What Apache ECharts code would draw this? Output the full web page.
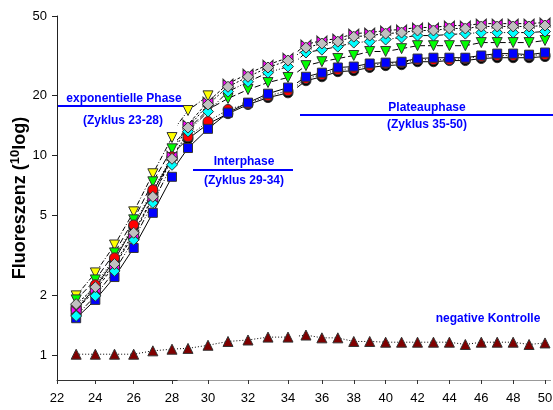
<!DOCTYPE html>
<html>
<head>
<meta charset="utf-8">
<script src="https://cdn.jsdelivr.net/npm/echarts@6/dist/echarts.min.js"></script>
<style>
html, body { margin: 0; padding: 0; background: #fff; }
#chart { width: 553px; height: 410px; }
</style>
</head>
<body>
<div id="chart"></div>
<script>
var chart = echarts.init(document.getElementById('chart'));

// Zyklus 23 .. 50
var cycles = [23, 24, 25, 26, 27, 28, 29, 30, 31, 32, 33, 34, 35, 36, 37, 38, 39, 40, 41, 42, 43, 44, 45, 46, 47, 48, 49, 50];

// yellow is hidden behind the other markers after cycle 30
var yellowVals  = [1.98, 2.58, 3.56, 5.22, 8.10, 12.3, 16.8, 19.9, null, null, null, null, null, null, null, null, null, null, null, null, null, null, null, null, null, null, null, null];
var greenVals   = [1.89, 2.38, 3.25, 4.76, 7.38, 10.8, 13.5, 17.0, 19.3, 21.4, 23.2, 24.6, 28.2, 29.5, 30.6, 31.7, 33.2, 33.2, 34.3, 35.5, 35.5, 35.5, 35.5, 36.8, 36.8, 36.8, 36.8, 37.7];
var blackVals   = [1.68, 2.19, 3.00, 4.39, 6.58, 9.74, 12.1, 14.4, 16.2, 18.0, 19.5, 20.6, 23.7, 24.8, 26.3, 26.6, 27.6, 28.2, 28.5, 29.5, 29.5, 29.9, 29.9, 30.6, 30.9, 30.9, 30.9, 31.3];
var redVals     = [1.72, 2.25, 3.07, 4.49, 6.73, 9.85, 12.4, 14.8, 17.0, 18.2, 19.9, 21.1, 24.3, 25.4, 26.9, 27.3, 28.2, 28.9, 29.2, 30.2, 30.2, 30.2, 30.6, 31.3, 31.7, 31.7, 31.7, 32.0];
var blueVals    = [1.53, 1.89, 2.46, 3.44, 5.16, 7.82, 10.9, 13.6, 16.4, 18.4, 20.4, 21.9, 24.8, 26.0, 27.6, 27.9, 28.9, 29.2, 29.5, 30.6, 30.9, 30.9, 30.9, 31.7, 32.4, 32.4, 32.0, 32.8];
var cyanVals    = [1.57, 1.98, 2.64, 3.78, 5.79, 8.98, 13.2, 16.6, 20.9, 23.4, 26.0, 27.9, 32.8, 33.9, 35.1, 36.8, 37.2, 38.1, 39.0, 39.9, 39.9, 40.4, 40.8, 41.3, 41.3, 41.3, 41.3, 41.8];
var magentaVals = [1.68, 2.12, 2.80, 4.00, 6.14, 9.97, 14.3, 18.6, 22.9, 25.7, 28.5, 30.9, 36.0, 37.7, 38.5, 40.8, 41.3, 42.3, 42.8, 43.8, 43.8, 44.8, 44.8, 45.8, 45.8, 45.8, 45.8, 46.4];
var greyVals    = [1.80, 2.19, 2.86, 4.10, 6.21, 9.63, 13.8, 18.0, 22.1, 24.8, 27.6, 29.9, 34.7, 36.4, 37.2, 39.4, 39.9, 40.8, 41.3, 42.3, 42.3, 43.3, 43.3, 44.3, 44.3, 44.3, 44.3, 44.8];
var negativeVals = [1.01, 1.01, 1.01, 1.01, 1.05, 1.07, 1.08, 1.12, 1.17, 1.19, 1.23, 1.23, 1.26, 1.22, 1.22, 1.17, 1.17, 1.16, 1.16, 1.16, 1.16, 1.16, 1.13, 1.16, 1.16, 1.16, 1.13, 1.15];

var yTicks = [1, 2, 5, 10, 20, 50];
var xTicks1 = [22, 24, 26, 28];
var xTicks2 = [30, 32, 34];
var xTicks3 = [36, 38, 40, 42, 44, 46, 48, 50];

var FONT = 'Liberation Sans, Arial, sans-serif';
var bowtie = 'path://M0,0L10,5L0,10ZM20,0L10,5L20,10Z';

// the three phases are drawn with their own x scale, like the original
var segments = [
    { from: 23, to: 28, min: 22, max: 28.5, left: 57, width: 124.6, ticks: xTicks1, axisColor: '#333' },
    { from: 28, to: 34, min: 28.5, max: 34.5, left: 178, width: 120, ticks: xTicks2, axisColor: '#999' },
    { from: 34, to: 50, min: 34.5, max: 50.35, left: 298, width: 252.6, ticks: xTicks3, axisColor: '#999' }
];

var lines = [
    { vals: yellowVals, color: '#ffff00', symbol: 'triangle', rotate: 180, size: 10, dash: [5, 2, 1, 2] },
    { vals: greenVals, color: '#00ff00', symbol: 'triangle', rotate: 180, size: 10, dash: [6, 3] },
    { vals: blackVals, color: '#000000', symbol: 'circle', rotate: 0, size: 10, dash: 'solid' },
    { vals: redVals, color: '#ff0000', symbol: 'circle', rotate: 0, size: 10, dash: [1, 2] },
    { vals: blueVals, color: '#0000ff', symbol: 'rect', rotate: 0, size: 9, dash: 'solid' },
    { vals: cyanVals, color: '#00ffff', symbol: 'diamond', rotate: 0, size: 11, dash: [6, 2, 1, 2, 1, 2] },
    { vals: magentaVals, color: '#ff00ff', symbol: bowtie, rotate: 0, size: [10, 9], dash: [3, 2] },
    { vals: greyVals, color: '#c0c0c0', symbol: 'diamond', rotate: 0, size: 11, dash: [2, 2] },
    { vals: negativeVals, color: '#800000', symbol: 'triangle', rotate: 0, size: 10, dash: [1, 2] }
];

var grids = [], xAxes = [], yAxes = [], series = [];

segments.forEach(function (s, si) {
    grids.push({ left: s.left, width: s.width, top: 16, height: 364, outerBoundsMode: 'none' });
    xAxes.push({
        type: 'value', gridIndex: si, min: s.min, max: s.max,
        axisLine: { show: true, lineStyle: { color: s.axisColor, width: 1 } },
        axisTick: { show: true, length: 4, customValues: s.ticks, lineStyle: { color: '#333' } },
        axisLabel: { customValues: s.ticks, margin: 12, fontSize: 13, color: '#000', fontFamily: FONT },
        splitLine: { show: false }
    });
    var first = si === 0;
    yAxes.push({
        type: 'log', logBase: 10, gridIndex: si, min: 0.75, max: 50,
        name: first ? '{a|Fluoreszenz (}{b|10}{a|log)}' : '',
        nameLocation: 'middle', nameRotate: 90, nameGap: 20,
        nameTextStyle: {
            rich: {
                a: { fontSize: 18, fontWeight: 'bold', fontFamily: FONT, color: '#000', lineHeight: 21 },
                b: { fontSize: 13, fontWeight: 'bold', fontFamily: FONT, color: '#000', lineHeight: 14, verticalAlign: 'top' }
            }
        },
        axisLine: { show: first, lineStyle: { color: '#222', width: 1 } },
        axisTick: { show: first, length: 5, customValues: yTicks, lineStyle: { color: '#222' } },
        axisLabel: { show: first, customValues: yTicks, margin: 10, fontSize: 13, color: '#000', fontFamily: FONT },
        minorTick: { show: false },
        splitLine: { show: false }
    });

    lines.forEach(function (l) {
        var data = [];
        cycles.forEach(function (c, i) {
            if (c < s.from || c > s.to || l.vals[i] == null) return;
            var item = { value: [c, l.vals[i]] };
            if (si > 0 && c === s.from) item.symbol = 'none';   // only the joining segment
            data.push(item);
        });
        if (data.length < 2) return;
        series.push({
            type: 'line', xAxisIndex: si, yAxisIndex: si,
            data: data,
            symbol: l.symbol, symbolSize: l.size, symbolRotate: l.rotate,
            showAllSymbol: true,
            clip: false, silent: true,
            itemStyle: { color: l.color, borderColor: '#333', borderWidth: 1 },
            lineStyle: { color: '#000', width: 1, type: l.dash },
            emphasis: { disabled: true }
        });
    });
});

function label(x, y, text) {
    return {
        type: 'text', x: x, y: y, silent: true,
        style: { text: text, fill: '#0000ff', font: 'bold 12px ' + FONT, align: 'center', verticalAlign: 'middle' }
    };
}
function rule(x1, x2, y) {
    return { type: 'line', silent: true, shape: { x1: x1, y1: y, x2: x2, y2: y }, style: { stroke: '#0000ff', lineWidth: 2 } };
}

var option = {
    backgroundColor: '#fff',
    animation: false,
    grid: grids,
    xAxis: xAxes,
    yAxis: yAxes,
    series: series,
    graphic: [
        label(124, 99, 'exponentielle Phase'),
        rule(58, 187, 106),
        label(123, 121, '(Zyklus 23-28)'),
        label(244, 162, 'Interphase'),
        rule(193, 293, 170),
        label(244, 181, '(Zyklus 29-34)'),
        label(427, 108, 'Plateauphase'),
        rule(300, 553, 115),
        label(427, 125, '(Zyklus 35-50)'),
        label(488, 319, 'negative Kontrolle')
    ]
};

chart.setOption(option);
</script>
</body>
</html>
